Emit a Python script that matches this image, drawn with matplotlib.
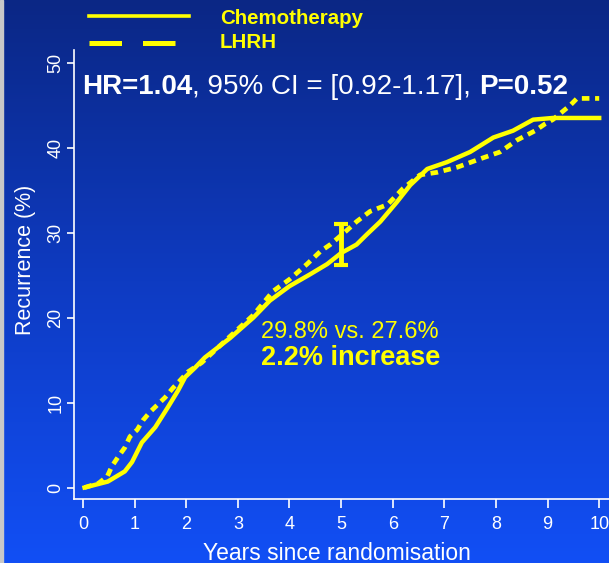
import numpy as np
import matplotlib
matplotlib.use("Agg")
import matplotlib.pyplot as plt
from matplotlib.colors import LinearSegmentedColormap
from matplotlib.patches import Rectangle
from matplotlib.lines import Line2D

plt.rcParams['font.family'] = ['Liberation Sans', 'DejaVu Sans']

# cumulative recurrence (%)
chemo_years = [0.03, 0.48, 0.81, 0.95, 1.14, 1.4, 1.65, 1.84, 1.98, 2.17, 2.36, 2.85,
               3.3, 3.62, 4.0, 4.4, 4.73, 5.0, 5.3, 5.5, 5.76, 6.08, 6.34, 6.67, 7.05,
               7.5, 7.95, 8.33, 8.72, 9.1, 10.0]
chemo_rec = [0.0, 0.7, 1.9, 3.0, 5.3, 7.1, 9.5, 11.4, 13.0, 14.1, 15.3, 17.6,
             20.0, 22.0, 23.7, 25.1, 26.3, 27.6, 28.6, 29.8, 31.3, 33.6, 35.6, 37.5, 38.3,
             39.5, 41.2, 42.0, 43.3, 43.5, 43.5]

lhrh_years = [0.03, 0.3, 0.47, 0.56, 0.68, 0.81, 0.91, 1.05, 1.16, 1.3, 1.59, 1.74, 1.88,
              2.03, 2.3, 2.85, 3.3, 3.68, 4.0, 4.34, 4.6, 4.79, 5.08, 5.3, 5.56, 5.9, 6.2,
              6.53, 6.86, 7.25, 7.7, 8.08, 8.41, 8.76, 8.95, 9.1, 9.28, 9.44, 9.57, 10.0]
lhrh_rec = [0.0, 0.5, 1.3, 2.5, 3.6, 4.7, 6.0, 6.8, 7.9, 8.9, 10.6, 11.7, 12.6,
            13.6, 14.7, 17.8, 20.3, 23.1, 24.5, 26.3, 27.8, 28.6, 30.1, 31.3, 32.5, 33.3, 35.2,
            36.8, 37.1, 37.7, 38.7, 39.5, 40.9, 42.0, 42.8, 43.3, 44.2, 45.0, 45.8, 45.8]

# 95% CI of the 5-year difference
ci_year = 5.0
ci_low, ci_high = 26.2, 31.0

xticks = list(range(0, 11))
yticks = [0, 10, 20, 30, 40, 50]

W, H = 609, 563
YELLOW = '#ffff00'
fig = plt.figure(figsize=(W / 100, H / 100), dpi=100)

# blue gradient background
bg = fig.add_axes([0, 0, 1, 1], zorder=-2)
cmap = LinearSegmentedColormap.from_list('bg', ['#0b2785', '#0e3bc2', '#124ff5'])
bg.imshow(np.linspace(0, 1, 256).reshape(-1, 1), aspect='auto', cmap=cmap,
          extent=[0, 1, 0, 1])
bg.axis('off')
fig.patches.append(Rectangle((0, 0), 3 / W, 1, transform=fig.transFigure,
                             color='#c8c8c8', zorder=-1))

ax = fig.add_axes([73.5 / W, (H - 499) / H, 1 - 73.5 / W, (499 - 50) / H])
ax.set_facecolor('none')

ax.plot(chemo_years, chemo_rec, color=YELLOW, lw=3.2, solid_joinstyle='round')
ax.plot(lhrh_years, lhrh_rec, color=YELLOW, lw=3.4, linestyle=(0, (1.6, 1.2)))
ax.errorbar([ci_year], [(ci_low + ci_high) / 2], yerr=[[(ci_high - ci_low) / 2]],
            fmt='none', ecolor=YELLOW, elinewidth=3.5, capsize=5, capthick=3)

ax.set_xlim(-0.184, 10.19)
ax.set_ylim(-1.35, 51.5)
ax.set_xticks(xticks)
ax.set_yticks(yticks)
for s in ['top', 'right']:
    ax.spines[s].set_visible(False)
for s in ['left', 'bottom']:
    ax.spines[s].set_color('white')
    ax.spines[s].set_linewidth(1.2)
ax.tick_params(axis='x', colors='white', length=6.5, width=1.2, pad=6, labelsize=13)
ax.tick_params(axis='y', colors='white', length=5, width=1.2, pad=1.5, labelsize=13)
for lab in ax.get_yticklabels():
    lab.set_rotation(90)
    lab.set_va('center')

fig.text(337 / W, 1 - 553 / H, 'Years since randomisation', color='white',
         fontsize=16.5, ha='center', va='center')
fig.text(26 / W, 1 - 260 / H, 'Recurrence (%)', color='white', fontsize=15.5,
         rotation=90, ha='center', va='center')

# legend drawn by hand above the plot
fig.add_artist(Line2D([89 / W, 189 / W], [1 - 16 / H, 1 - 16 / H], color=YELLOW, lw=2.6))
fig.add_artist(Line2D([89 / W, 189 / W], [1 - 43 / H, 1 - 43 / H], color=YELLOW, lw=3.6,
                      linestyle=(0, (6.5, 4.2))))
fig.text(220 / W, 1 - 18 / H, 'Chemotherapy', color=YELLOW, fontsize=14.8,
         fontweight='bold', va='center', ha='left')
fig.text(220 / W, 1 - 43 / H, 'LHRH', color=YELLOW, fontsize=14.8,
         fontweight='bold', va='center', ha='left')

# HR line with mixed weights
parts = [('HR=1.04', 'bold'), (', 95% CI = [0.92-1.17], ', 'normal'), ('P=0.52', 'bold')]
prev = fig.text(82 / W, 1 - 94 / H, parts[0][0], color='white', fontsize=20,
                fontweight=parts[0][1], va='baseline', ha='left')
for txt, wt in parts[1:]:
    prev = ax.annotate(txt, xy=(1, 0), xycoords=prev, color='white', fontsize=20,
                       fontweight=wt, va='bottom', ha='left', annotation_clip=False)

fig.text(261 / W, 1 - 332 / H, '29.8% vs. 27.6%', color=YELLOW, fontsize=17,
         va='center', ha='left')
fig.text(261 / W, 1 - 358 / H, '2.2% increase', color=YELLOW, fontsize=19.5,
         fontweight='bold', va='center', ha='left')

fig.savefig('out.png', dpi=100)
